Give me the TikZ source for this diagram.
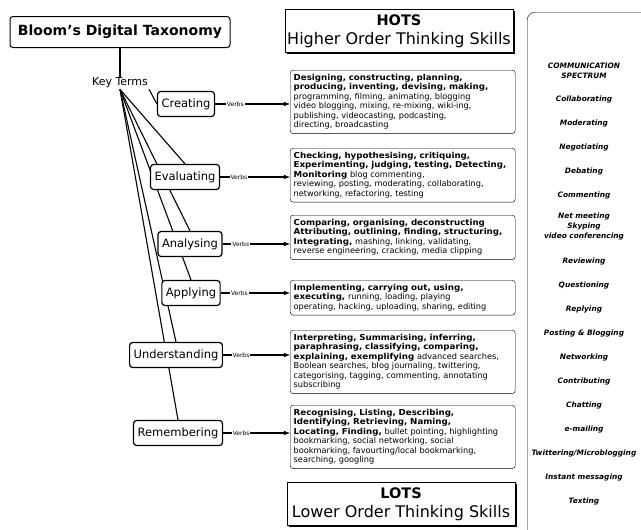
\documentclass[tikz,border=0pt]{standalone}
\usepackage{fontspec}
\setmainfont{DejaVu Sans}
\newfontfamily\verbfont{DejaVu Sans}[BoldFeatures={FakeStretch=1.06}]
\usetikzlibrary{positioning, shadows, backgrounds}

\begin{document}
\begin{tikzpicture}[x=1pt, y=-1pt]
    % Styles
    \tikzset{
        title/.style={rectangle, draw, rounded corners=3pt, line width=1pt, minimum width=220pt, minimum height=31pt, inner xsep=3pt, font=\fontsize{14}{16}\selectfont\bfseries},
        level/.style={rectangle, draw, fill=white, rounded corners=3pt, line width=1.2pt, inner xsep=4pt, minimum height=25pt, font=\fontsize{11.5}{13}\selectfont},
        verbbox/.style={rectangle, draw, fill=white, rounded corners=3pt, anchor=north west, text width=218pt, inner xsep=3.5pt, inner ysep=4pt, align=left, font=\verbfont\fontsize{8.2}{9.5}\selectfont},
        skills/.style={rectangle, draw, thick, fill=white, drop shadow={shadow xshift=1.5pt, shadow yshift=-1.5pt, fill=black, opacity=1}, align=center, minimum width=228pt, minimum height=43pt, inner sep=1pt, font=\fontsize{16}{19}\selectfont},
        verblabel/.style={fill=white, inner sep=1pt, font=\fontsize{6}{6}\selectfont},
        link/.style={->, >=latex, line width=1.1pt},
        fan/.style={line width=1.1pt},
        panel/.style={rectangle, draw, rounded corners=8pt, anchor=north west, minimum width=140pt, minimum height=540pt},
        spectrum/.style={anchor=north, align=center, inner sep=0pt, font=\fontsize{7.4}{10}\selectfont\bfseries\itshape}
    }
    \useasboundingbox (0,0) rectangle (641,530);

    % --- Nodes ---

    % Title and key terms
    \node[title] (title) at (120,32) {Bloom's Digital Taxonomy};
    \node[font=\fontsize{11}{13}\selectfont, inner sep=1pt] (keyterms) at (120,83) {Key Terms};

    % Thinking levels
    \node[level] (creating) at (186,104) {Creating};
    \node[level] (evaluating) at (185,177) {Evaluating};
    \node[level] (analysing) at (190,244) {Analysing};
    \node[level] (applying) at (191,293) {Applying};
    \node[level] (understanding) at (176,355) {Understanding};
    \node[level] (remembering) at (178,433) {Remembering};

    % HOTS / LOTS banners
    \node[skills] (hots) at (399,31) {\textbf{\fontsize{14.5}{16}\selectfont HOTS}\\Higher Order Thinking Skills};
    \node[skills] (lots) at (401,504) {\textbf{\fontsize{14.5}{16}\selectfont LOTS}\\Lower Order Thinking Skills};

    % Verb boxes
    \node[verbbox] (verbs_creating) at (290,70) {\textbf{Designing, constructing, planning,\\producing, inventing, devising, making,}\\programming, filming, animating, blogging\\video blogging, mixing, re-mixing, wiki-ing,\\publishing, videocasting, podcasting,\\directing, broadcasting};
    \node[verbbox] (verbs_evaluating) at (290,148) {\textbf{Checking, hypothesising, critiquing,\\Experimenting, judging, testing, Detecting,\\Monitoring} blog commenting,\\reviewing, posting, moderating, collaborating,\\networking, refactoring, testing};
    \node[verbbox] (verbs_analysing) at (290,215) {\textbf{Comparing, organising, deconstructing\\Attributing, outlining, finding, structuring,\\Integrating,} mashing, linking, validating,\\reverse engineering, cracking, media clipping};
    \node[verbbox] (verbs_applying) at (290,280) {\textbf{Implementing, carrying out, using,\\executing,} running, loading, playing\\operating, hacking, uploading, sharing, editing};
    \node[verbbox] (verbs_understanding) at (290,330) {\textbf{Interpreting, Summarising, inferring,\\paraphrasing, classifying, comparing,\\explaining, exemplifying} advanced searches,\\Boolean searches, blog journaling, twittering,\\categorising, tagging, commenting, annotating\\subscribing};
    \node[verbbox] (verbs_remembering) at (290,405) {\textbf{Recognising, Listing, Describing,\\Identifying, Retrieving, Naming,\\Locating, Finding,} bullet pointing, highlighting\\bookmarking, social networking, social\\bookmarking, favourting/local bookmarking,\\searching, googling};

    % Communication spectrum column
    \node[panel] (panel) at (527,12) {};
    \node[spectrum] (spectrum) at (584,63) {COMMUNICATION\\SPECTRUM\\[13pt]
        Collaborating\\[14pt]Moderating\\[14pt]Negotiating\\[14pt]Debating\\[14pt]Commenting\\[11pt]
        Net meeting\\Skyping\\video conferencing\\[15pt]
        Reviewing\\[14pt]Questioning\\[14pt]Replying\\[14pt]Posting \& Blogging\\[14pt]Networking\\[14pt]
        Contributing\\[14pt]Chatting\\[14pt]e-mailing\\[14pt]Twittering/Microblogging\\[14pt]Instant messaging\\[14pt]Texting};

    % --- Connections ---

    \draw[fan] (title.south) -- (keyterms.north);

    \draw[link] (creating.east) -- node[verblabel, pos=0.27] {Verbs} (creating.east -| verbs_creating.west);
    \draw[link] (evaluating.east) -- node[verblabel, pos=0.27] {Verbs} (evaluating.east -| verbs_evaluating.west);
    \draw[link] (analysing.east) -- node[verblabel, pos=0.27] {Verbs} (analysing.east -| verbs_analysing.west);
    \draw[link] (applying.east) -- node[verblabel, pos=0.27] {Verbs} (applying.east -| verbs_applying.west);
    \draw[link] (understanding.east) -- node[verblabel, pos=0.27] {Verbs} (understanding.east -| verbs_understanding.west);
    \draw[link] (remembering.east) -- node[verblabel, pos=0.27] {Verbs} (remembering.east -| verbs_remembering.west);

    % Key terms fan out behind the level boxes
    \begin{scope}[on background layer]
        \draw[fan] (keyterms.south east) -- (creating.west);
        \draw[fan] (keyterms.south) -- (evaluating.north);
        \draw[fan] (keyterms.south) -- (analysing.north);
        \draw[fan] (keyterms.south) -- (applying.north);
        \draw[fan] (keyterms.south) -- (understanding.north);
        \draw[fan] (keyterms.south) -- (remembering.north);
    \end{scope}

\end{tikzpicture}
\end{document}
